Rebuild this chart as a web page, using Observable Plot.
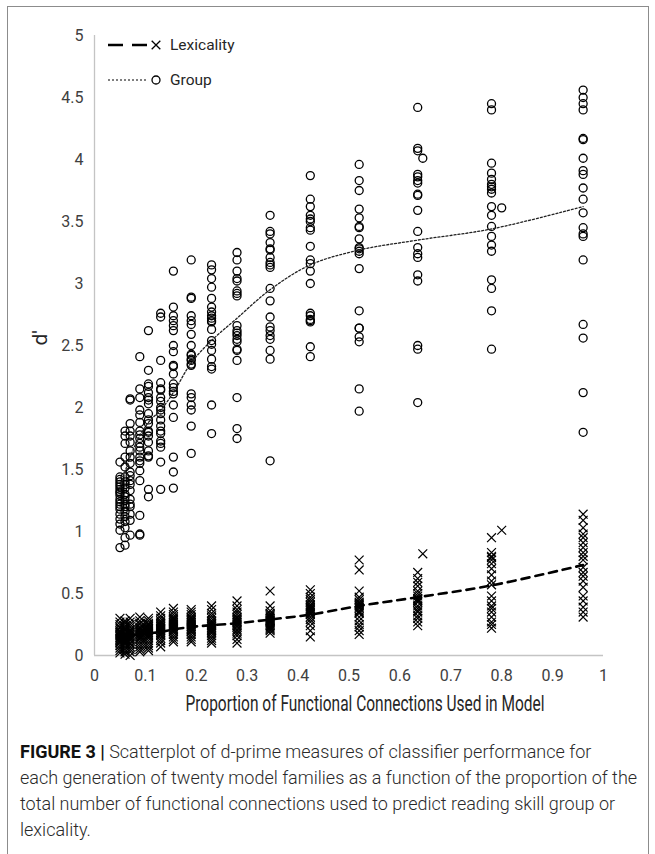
<!DOCTYPE html>
<html>
<head>
<meta charset="utf-8">
<script src="https://cdn.jsdelivr.net/npm/d3@7"></script>
<script src="https://cdn.jsdelivr.net/npm/@observablehq/plot@0.6"></script>
<style>
  html, body { margin: 0; padding: 0; background: #fff; }
  #wrap { position: relative; width: 655px; height: 854px; overflow: hidden; }
  #frame { position: absolute; left: 7px; top: 6px; width: 642px; height: 900px; border: 1px solid #8c8c8c; box-sizing: border-box; }
  #chart { position: absolute; left: 0; top: 0; }
  #xtitle { position: absolute; left: 65px; width: 600px; top: 691px; text-align: center; font-family: Roboto, "Liberation Sans", sans-serif; font-size: 21.5px; line-height: 26px; color: #262626; white-space: nowrap; transform: scaleX(0.72); transform-origin: 300px 50%; }
  #caption { position: absolute; left: 20px; top: 739px; width: 630px; font-family: "Roboto", "Liberation Sans", sans-serif; font-weight: 300; font-size: 18px; line-height: 26px; color: #2a2a2a; white-space: nowrap; }
  #caption .fig { font-weight: 700; color: #111; }
</style>
</head>
<body>
<div id="wrap">
  <div id="frame"></div>
  <div id="chart"></div>
  <div id="xtitle"></div>
  <div id="caption"><span class="fig">FIGURE 3 |</span><span> Scatterplot of d-prime measures of classifier performance for</span><br><span>each generation of twenty model families as a function of the proportion of the</span><br><span>total number of functional connections used to predict reading skill group or</span><br><span>lexicality.</span></div>
</div>
<script>
// ---- data ----
const xTicks = [0, 0.1, 0.2, 0.3, 0.4, 0.5, 0.6, 0.7, 0.8, 0.9, 1];
const yTicks = [0, 0.5, 1, 1.5, 2, 2.5, 3, 3.5, 4, 4.5, 5];
const seriesNames = ["Lexicality", "Group"];
const xTitle = "Proportion of Functional Connections Used in Model";
const yTitle = "d'";

// proportion of connections used, per generation
const genX = [0.05, 0.06, 0.07, 0.089, 0.106, 0.13, 0.155, 0.19, 0.23, 0.28, 0.345, 0.424, 0.52, 0.635, 0.78, 0.96];

// Group d' values per generation
const groupY = [
  [1.56, 1.44, 1.42, 1.40, 1.38, 1.36, 1.34, 1.32, 1.31, 1.29, 1.26, 1.24, 1.22, 1.20, 1.18, 1.14, 1.10, 1.06, 1.01, 0.87],
  [1.81, 1.77, 1.71, 1.60, 1.52, 1.44, 1.40, 1.38, 1.35, 1.30, 1.28, 1.25, 1.22, 1.20, 1.16, 1.12, 1.08, 1.03, 0.95, 0.89],
  [2.07, 2.06, 1.87, 1.81, 1.77, 1.72, 1.65, 1.60, 1.55, 1.48, 1.45, 1.41, 1.38, 1.33, 1.26, 1.22, 1.20, 1.14, 1.09, 0.97],
  [2.41, 2.15, 2.08, 1.98, 1.94, 1.88, 1.81, 1.78, 1.75, 1.71, 1.68, 1.65, 1.60, 1.57, 1.55, 1.49, 1.41, 1.13, 0.98, 0.97],
  [2.62, 2.30, 2.19, 2.17, 2.12, 2.08, 2.06, 2.03, 1.95, 1.90, 1.87, 1.81, 1.80, 1.77, 1.72, 1.65, 1.61, 1.60, 1.34, 1.28],
  [2.76, 2.73, 2.38, 2.20, 2.15, 2.14, 2.08, 2.05, 2.00, 1.98, 1.95, 1.90, 1.85, 1.81, 1.79, 1.73, 1.71, 1.68, 1.56, 1.34],
  [3.10, 2.81, 2.74, 2.70, 2.66, 2.62, 2.50, 2.45, 2.34, 2.33, 2.27, 2.19, 2.16, 2.13, 2.11, 2.02, 1.92, 1.60, 1.48, 1.35],
  [3.19, 2.89, 2.88, 2.74, 2.70, 2.67, 2.59, 2.50, 2.43, 2.42, 2.39, 2.38, 2.35, 2.34, 2.11, 2.08, 2.02, 1.98, 1.85, 1.63],
  [3.15, 3.11, 3.04, 2.97, 2.88, 2.81, 2.77, 2.74, 2.72, 2.70, 2.69, 2.63, 2.54, 2.51, 2.46, 2.39, 2.33, 2.31, 2.02, 1.79],
  [3.25, 3.19, 3.10, 3.04, 3.02, 2.94, 2.92, 2.90, 2.66, 2.62, 2.60, 2.58, 2.55, 2.53, 2.47, 2.46, 2.38, 2.08, 1.83, 1.75],
  [3.55, 3.42, 3.40, 3.33, 3.28, 3.27, 3.21, 3.17, 3.15, 3.13, 2.96, 2.86, 2.73, 2.65, 2.62, 2.58, 2.55, 2.46, 2.39, 1.57],
  [3.87, 3.68, 3.62, 3.55, 3.52, 3.50, 3.45, 3.43, 3.30, 3.19, 3.16, 3.10, 3.00, 2.76, 2.74, 2.71, 2.70, 2.69, 2.49, 2.41],
  [3.96, 3.83, 3.75, 3.60, 3.53, 3.46, 3.45, 3.36, 3.29, 3.28, 3.26, 3.24, 3.12, 2.78, 2.64, 2.64, 2.57, 2.53, 2.15, 1.97],
  [4.42, 4.09, 4.07, 3.88, 3.86, 3.83, 3.81, 3.72, 3.71, 3.59, 3.42, 3.29, 3.24, 3.21, 3.07, 3.02, 2.50, 2.47, 2.04],
  [4.45, 4.40, 3.97, 3.89, 3.84, 3.80, 3.78, 3.76, 3.73, 3.62, 3.55, 3.46, 3.38, 3.31, 3.26, 3.03, 2.96, 2.78, 2.47],
  [4.56, 4.50, 4.45, 4.40, 4.17, 4.16, 4.01, 3.91, 3.88, 3.77, 3.68, 3.57, 3.45, 3.40, 3.38, 3.19, 2.67, 2.56, 2.12, 1.80]
];
const groupExtraX = [0.645, 0.80];
const groupExtraY = [4.01, 3.61];

// Lexicality d' values per generation
const lexY = [
  [0.30, 0.27, 0.25, 0.23, 0.22, 0.20, 0.19, 0.18, 0.17, 0.16, 0.15, 0.14, 0.13, 0.12, 0.11, 0.10, 0.08, 0.06, 0.04, 0.02],
  [0.28, 0.26, 0.24, 0.22, 0.21, 0.20, 0.18, 0.17, 0.16, 0.15, 0.14, 0.13, 0.12, 0.11, 0.10, 0.09, 0.07, 0.05, 0.03, 0.01],
  [0.30, 0.27, 0.25, 0.23, 0.21, 0.20, 0.19, 0.18, 0.17, 0.16, 0.15, 0.14, 0.13, 0.12, 0.10, 0.09, 0.07, 0.05, 0.03, 0.00],
  [0.31, 0.28, 0.26, 0.25, 0.23, 0.22, 0.21, 0.20, 0.19, 0.18, 0.17, 0.16, 0.15, 0.14, 0.13, 0.11, 0.09, 0.07, 0.05, 0.03],
  [0.30, 0.28, 0.26, 0.25, 0.24, 0.23, 0.22, 0.21, 0.20, 0.19, 0.18, 0.17, 0.16, 0.15, 0.14, 0.12, 0.10, 0.08, 0.06, 0.04],
  [0.35, 0.32, 0.30, 0.28, 0.27, 0.26, 0.25, 0.24, 0.23, 0.22, 0.21, 0.20, 0.19, 0.18, 0.17, 0.16, 0.14, 0.12, 0.10, 0.07],
  [0.38, 0.35, 0.33, 0.31, 0.30, 0.29, 0.28, 0.27, 0.26, 0.25, 0.24, 0.23, 0.22, 0.21, 0.20, 0.19, 0.17, 0.15, 0.13, 0.11],
  [0.37, 0.35, 0.33, 0.31, 0.30, 0.29, 0.28, 0.27, 0.26, 0.25, 0.24, 0.23, 0.22, 0.21, 0.20, 0.19, 0.17, 0.15, 0.13, 0.11],
  [0.40, 0.37, 0.34, 0.32, 0.30, 0.28, 0.27, 0.26, 0.25, 0.24, 0.23, 0.22, 0.21, 0.20, 0.19, 0.18, 0.16, 0.14, 0.12, 0.10],
  [0.44, 0.40, 0.37, 0.35, 0.33, 0.31, 0.30, 0.29, 0.28, 0.27, 0.26, 0.25, 0.24, 0.23, 0.21, 0.20, 0.18, 0.16, 0.13, 0.10],
  [0.52, 0.40, 0.36, 0.34, 0.33, 0.32, 0.31, 0.30, 0.29, 0.28, 0.28, 0.27, 0.26, 0.25, 0.24, 0.23, 0.22, 0.21, 0.20, 0.18],
  [0.53, 0.50, 0.47, 0.45, 0.43, 0.41, 0.40, 0.39, 0.38, 0.37, 0.36, 0.35, 0.34, 0.33, 0.31, 0.29, 0.27, 0.24, 0.20, 0.15],
  [0.77, 0.69, 0.52, 0.47, 0.45, 0.43, 0.42, 0.41, 0.40, 0.39, 0.38, 0.36, 0.35, 0.34, 0.31, 0.28, 0.25, 0.23, 0.20, 0.17],
  [0.67, 0.62, 0.59, 0.56, 0.52, 0.50, 0.48, 0.46, 0.45, 0.44, 0.43, 0.40, 0.38, 0.36, 0.35, 0.32, 0.30, 0.27, 0.24],
  [0.95, 0.83, 0.80, 0.79, 0.77, 0.74, 0.70, 0.65, 0.60, 0.57, 0.48, 0.44, 0.40, 0.38, 0.35, 0.31, 0.27, 0.25, 0.22],
  [1.14, 1.09, 1.03, 0.98, 0.95, 0.91, 0.87, 0.83, 0.80, 0.77, 0.71, 0.67, 0.64, 0.60, 0.55, 0.48, 0.44, 0.39, 0.35, 0.31]
];
const lexExtraX = [0.645, 0.80];
const lexExtraY = [0.82, 1.01];

// trend lines
const trendX = [0.05, 0.07, 0.09, 0.11, 0.13, 0.155, 0.19, 0.23, 0.28, 0.345, 0.424, 0.52, 0.635, 0.78, 0.96];
const groupTrendY = [1.35, 1.60, 1.78, 1.90, 1.98, 2.12, 2.36, 2.54, 2.72, 2.95, 3.15, 3.27, 3.35, 3.44, 3.62];
const lexTrendY = [0.15, 0.16, 0.17, 0.18, 0.19, 0.21, 0.23, 0.245, 0.26, 0.29, 0.33, 0.40, 0.47, 0.565, 0.73];

// ---- build tables ----
function flatten(ys, extraX, extraY) {
  const rows = [];
  ys.forEach((col, i) => col.forEach(v => rows.push({x: genX[i], y: v})));
  extraX.forEach((xv, i) => rows.push({x: xv, y: extraY[i]}));
  return rows;
}
const groupPts = flatten(groupY, groupExtraX, groupExtraY);
const lexPts = flatten(lexY, lexExtraX, lexExtraY);
const groupTrend = trendX.map((x, i) => ({x, y: groupTrendY[i]}));
const lexTrend = trendX.map((x, i) => ({x, y: lexTrendY[i]}));

const FONT = 'Roboto, "Liberation Sans", sans-serif';

const chart = Plot.plot({
  width: 655,
  height: 690,
  marginLeft: 94,
  marginRight: 52,
  marginTop: 35,
  marginBottom: 35,
  style: {fontFamily: FONT, color: "#404040", background: "transparent", overflow: "visible"},
  x: {domain: [0, 1]},
  y: {domain: [0, 5]},
  marks: [
    Plot.ruleX([0], {stroke: "#c4c4c4", strokeWidth: 1.3}),
    Plot.ruleY([0], {stroke: "#c4c4c4", strokeWidth: 1.3}),
    Plot.axisX({ticks: xTicks, tickSize: 0, tickPadding: 14, fontSize: 16, label: null, tickFormat: d => String(d)}),
    Plot.axisY({ticks: yTicks, tickSize: 0, tickPadding: 11, fontSize: 16, label: null, tickFormat: d => String(d)}),
    Plot.text([yTitle], {frameAnchor: "left", text: d => d, dx: -54, rotate: -90, fontSize: 21, fill: "#262626"}),
    Plot.dot(groupPts, {x: "x", y: "y", symbol: "circle", r: 4, stroke: "#000", strokeWidth: 1.3, fill: "none"}),
    Plot.dot(lexPts, {x: "x", y: "y", symbol: "times", r: 4.1, stroke: "#000", strokeWidth: 1.2}),
    Plot.line(groupTrend, {x: "x", y: "y", curve: "catmull-rom", stroke: "#222", strokeWidth: 1.3, strokeDasharray: "2,2"}),
    Plot.line(lexTrend, {x: "x", y: "y", curve: "catmull-rom", stroke: "#000", strokeWidth: 2.6, strokeDasharray: "8,6"})
  ]
});
document.getElementById("chart").appendChild(chart);
document.getElementById("xtitle").textContent = xTitle;

// ---- legend (overlay, top-left of plot) ----
const ns = "http://www.w3.org/2000/svg";
const lg = document.createElementNS(ns, "svg");
lg.setAttribute("width", 260);
lg.setAttribute("height", 100);
lg.style.position = "absolute"; lg.style.left = "0px"; lg.style.top = "0px";
document.getElementById("wrap").appendChild(lg);
const legendRows = [
  {name: seriesNames[0], y: 45, dash: "15,9", sw: 2.6, x2: 147, sym: d3.symbolTimes},
  {name: seriesNames[1], y: 80, dash: "2,2", sw: 1.2, x2: 148, sym: d3.symbolCircle}
];
legendRows.forEach(r => {
  const l = document.createElementNS(ns, "line");
  l.setAttribute("x1", 108); l.setAttribute("x2", r.x2);
  l.setAttribute("y1", r.y); l.setAttribute("y2", r.y);
  l.setAttribute("stroke", "#000"); l.setAttribute("stroke-width", r.sw);
  l.setAttribute("stroke-dasharray", r.dash);
  lg.appendChild(l);
  const p = document.createElementNS(ns, "path");
  p.setAttribute("d", d3.symbol(r.sym, Math.PI * 16)());
  p.setAttribute("transform", `translate(156,${r.y})`);
  p.setAttribute("fill", "none"); p.setAttribute("stroke", "#000"); p.setAttribute("stroke-width", 1.3);
  lg.appendChild(p);
  const t = document.createElementNS(ns, "text");
  t.setAttribute("x", 170); t.setAttribute("y", r.y);
  t.setAttribute("dy", "0.35em");
  t.setAttribute("font-family", FONT); t.setAttribute("font-size", 15.5);
  t.setAttribute("fill", "#262626");
  t.textContent = r.name;
  lg.appendChild(t);
});
</script>
</body>
</html>
